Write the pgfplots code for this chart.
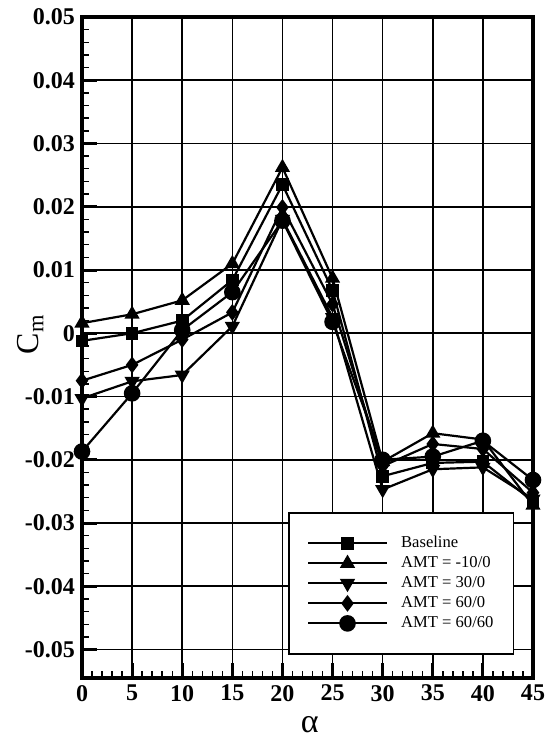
\documentclass[border=0pt]{standalone}
\usepackage{pgfplots}
\pgfplotsset{compat=1.18}
\usepackage{fontspec}
\setmainfont{Liberation Serif}

\begin{document}
\begin{tikzpicture}
\begin{axis}[
  name=ax, scale only axis, width=225.5pt, height=330.5pt,
  xmin=0, xmax=45, ymin=-0.0545, ymax=0.05,
  xtick={0,5,...,45},
  ytick={-0.05,-0.04,-0.03,-0.02,-0.01,0,0.01,0.02,0.03,0.04,0.05},
  yticklabels={-0.05,-0.04,-0.03,-0.02,-0.01,0,0.01,0.02,0.03,0.04,0.05},
  scaled y ticks=false,
  minor x tick num=4, minor y tick num=4,
  tick pos=left, tick align=inside,
  major tick length=7.5pt, minor tick length=3.5pt,
  major tick style={line width=1.5pt, black},
  minor tick style={line width=0.7pt, black},
  axis line style={line width=2pt},
  grid=major, major grid style={line width=0.8pt, black},
  tick label style={font=\fontsize{12}{14}\selectfont\bfseries},
  /pgf/number format/assume math mode=true,
  xlabel={\fontsize{17}{19}\selectfont α},
  xlabel style={at={(axis description cs:0.505,0)}, anchor=center, yshift=-23.5pt},
  ylabel={\fontsize{16}{18}\selectfont C\textsubscript{m}},
  ylabel style={at={(axis description cs:-0.115,0.52)}, anchor=center},
  every axis plot/.append style={line width=1.1pt, black, mark options={solid, fill=black}},
  legend style={at={(0.457,0.251)}, anchor=north west, draw=black, line width=0.8pt,
    fill=white, inner xsep=9pt, inner ysep=10.5pt,
    font=\fontsize{8.3}{10}\selectfont,
    nodes={inner sep=1pt, text height=6pt, text depth=1.5pt, anchor=west},
    row sep=0.5pt},
  legend cell align=left,
  legend image code/.code={\draw[mark repeat=2, mark phase=2, #1]
    plot coordinates {(0pt,0pt) (19.75pt,0pt) (39.5pt,0pt)};
    \path (45pt,0pt);},
]
\addplot[mark=square*, mark size=2.6pt] coordinates {
  (0,-0.0012) (5,0.0000) (10,0.0020) (15,0.0084) (20,0.0235)
  (25,0.0068) (30,-0.0226) (35,-0.0205) (40,-0.0203) (45,-0.0266)};
\addlegendentry{Baseline}
\addplot[mark=triangle*, mark size=3.3pt] coordinates {
  (0,0.0016) (5,0.0030) (10,0.0052) (15,0.0110) (20,0.0262)
  (25,0.0087) (30,-0.0203) (35,-0.0158) (40,-0.0168) (45,-0.0272)};
\addlegendentry{AMT = -10/0}
\addplot[mark=triangle*, mark size=3.3pt, mark options={rotate=180}] coordinates {
  (0,-0.0103) (5,-0.0076) (10,-0.0066) (15,0.0011) (20,0.0180)
  (25,0.0025) (30,-0.0247) (35,-0.0215) (40,-0.0212) (45,-0.0262)};
\addlegendentry{AMT = 30/0}
\addplot[mark=diamond*, mark size=3.3pt] coordinates {
  (0,-0.0075) (5,-0.0050) (10,-0.0010) (15,0.0033) (20,0.0199)
  (25,0.0046) (30,-0.0210) (35,-0.0175) (40,-0.0183) (45,-0.0252)};
\addlegendentry{AMT = 60/0}
\addplot[mark=*, mark size=3.6pt] coordinates {
  (0,-0.0187) (5,-0.0095) (10,0.0005) (15,0.0065) (20,0.0178)
  (25,0.0018) (30,-0.0200) (35,-0.0195) (40,-0.0170) (45,-0.0232)};
\addlegendentry{AMT = 60/60}
\end{axis}
\pgfresetboundingbox
\path[use as bounding box] ([xshift=-41pt,yshift=-32pt]ax.south west)
  rectangle ([xshift=8.5pt,yshift=8.5pt]ax.north east);
\end{tikzpicture}
\end{document}
